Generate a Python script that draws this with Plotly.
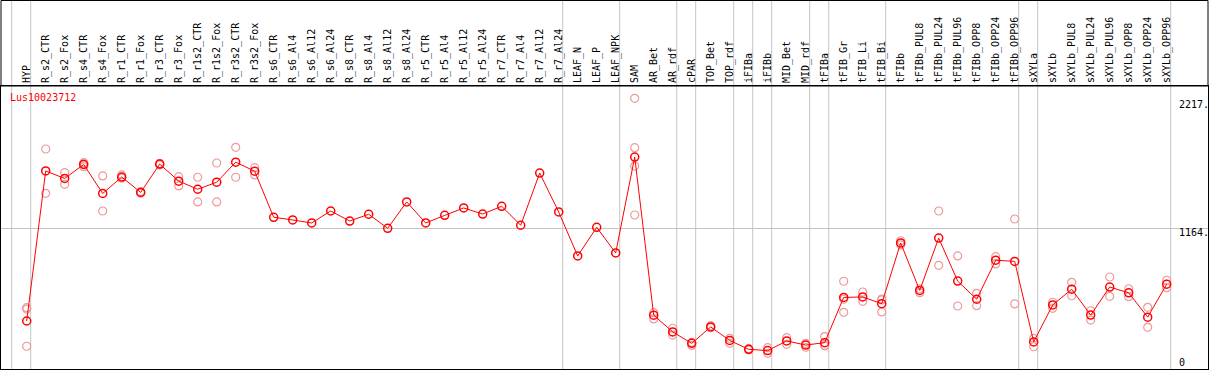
import plotly.graph_objects as go

categories = [
    "HYP", "R_s2_CTR", "R_s2_Fox", "R_s4_CTR", "R_s4_Fox", "R_r1_CTR", "R_r1_Fox",
    "R_r3_CTR", "R_r3_Fox", "R_r1s2_CTR", "R_r1s2_Fox", "R_r3s2_CTR", "R_r3s2_Fox",
    "R_s6_CTR", "R_s6_Al4", "R_s6_Al12", "R_s6_Al24", "R_s8_CTR", "R_s8_Al4",
    "R_s8_Al12", "R_s8_Al24", "R_r5_CTR", "R_r5_Al4", "R_r5_Al12", "R_r5_Al24",
    "R_r7_CTR", "R_r7_Al4", "R_r7_Al12", "R_r7_Al24", "LEAF_N", "LEAF_P", "LEAF_NPK",
    "SAM", "AR_Bet", "AR_rdf", "cPAR", "TOP_Bet", "TOP_rdf", "iFIBa", "iFIBb",
    "MID_Bet", "MID_rdf", "tFIBa", "tFIB_Gr", "tFIB_Li", "tFIB_Bi", "tFIBb",
    "tFIBb_PUL8", "tFIBb_PUL24", "tFIBb_PUL96", "tFIBb_OPP8", "tFIBb_OPP24",
    "tFIBb_OPP96", "sXYLa", "sXYLb", "sXYLb_PUL8", "sXYLb_PUL24", "sXYLb_PUL96",
    "sXYLb_OPP8", "sXYLb_OPP24", "sXYLb_OPP96",
]

means = [
    397, 1638, 1576, 1692, 1452, 1588, 1461, 1695, 1554, 1487, 1545, 1711, 1636,
    1255, 1233, 1208, 1307, 1224, 1280, 1164, 1382, 1208, 1271, 1332, 1282,
    1346, 1189, 1621, 1299, 935, 1172, 960,
    1753, 445, 307, 212, 348, 236, 163, 152, 232, 198, 218, 592, 596, 540, 1043,
    650, 1083, 727, 577, 900, 890, 224, 530, 660, 446, 678, 630, 429, 702,
]

replicates = [
    [507, 496, 188], [1820, 1453], [1624, 1528], [1707, 1696, 1674], [1597, 1307],
    [1605, 1578], [1467, 1456], [1702, 1688], [1591, 1514], [1586, 1382],
    [1704, 1382], [1834, 1586], [1665, 1605],
    [], [], [], [], [], [], [], [], [], [], [], [], [], [], [], [], [], [], [],
    [2239, 1831, 1679, 1274], [466, 414], [337, 281], [220, 195], [358, 342],
    [254, 213], [168, 157], [176, 130], [259, 204], [212, 180], [268, 195, 192],
    [726, 577, 469], [637, 560], [579, 571, 472], [1061, 1026], [664, 631],
    [1307, 858], [935, 521], [626, 524], [929, 869], [1241, 538], [254, 184],
    [552, 502], [717, 606], [482, 405], [761, 601], [664, 598], [510, 345],
    [734, 673],
]

separator_after = [-1, 0, 28, 31, 34, 35, 37, 38, 39, 41, 42, 45, 52, 53, 60]
y_ticks = [0, 1164, 2217]
y_tick_text = ["0", "1164.", "2217."]
grid_value = 1164
gene_id = "Lus10023712"

W, H = 1209, 370
ML, MR, MT, MB = 1, 1, 86, 1
plot_h = H - MT - MB
x_range = [-1.3526, 62.174]
y_range = [0, 2341]

MONO = "DejaVu Sans Mono"
RED = "#ff0000"
PINK = "#ee9a9a"
GRAY = "#c4c4c4"

xs = list(range(len(categories)))
rep_x, rep_y = [], []
for i, reps in enumerate(replicates):
    for r in reps:
        rep_x.append(i)
        rep_y.append(r)

fig = go.Figure()
fig.add_trace(go.Scatter(
    x=rep_x, y=rep_y, mode="markers",
    marker=dict(symbol="circle-open", size=8, color=PINK, line=dict(width=1.2, color=PINK)),
    hoverinfo="skip", showlegend=False,
))
fig.add_trace(go.Scatter(
    x=xs, y=means, mode="lines+markers",
    line=dict(color=RED, width=1),
    marker=dict(symbol="circle-open", size=8, color=RED, line=dict(width=1.5, color=RED)),
    showlegend=False,
))

shapes = []
top_paper = 1 + (MT - 0.5) / plot_h
for s in separator_after:
    shapes.append(dict(type="line", xref="x", yref="paper", x0=s + 4 / 19, x1=s + 4 / 19,
                       y0=0, y1=top_paper, line=dict(color=GRAY, width=1), layer="below"))
shapes.append(dict(type="rect", xref="paper", yref="paper", x0=0, x1=1, y0=1, y1=top_paper,
                   line=dict(color="black", width=1)))
fig.update_layout(shapes=shapes)

annotations = [dict(text=gene_id, xref="paper", yref="paper", x=0.0062, y=1 - 11.7 / plot_h,
                    xanchor="left", yanchor="middle", showarrow=False,
                    font=dict(family=MONO, size=10, color=RED))]
shifts = {0: 7, 1164: -4.4, 2217: -4}
for v, t in zip(y_ticks, y_tick_text):
    annotations.append(dict(text=t, xref="paper", yref="y", x=0.9745, y=v, yshift=shifts[v],
                            xanchor="left", yanchor="middle", showarrow=False,
                            font=dict(family=MONO, size=10, color="black")))
fig.update_layout(annotations=annotations)

fig.update_layout(
    width=W, height=H, margin=dict(l=ML, r=MR, t=MT, b=MB, pad=0),
    paper_bgcolor="white", plot_bgcolor="white",
    xaxis=dict(range=x_range, side="top", tickmode="array", tickvals=xs, ticktext=categories,
               tickangle=-90, tickfont=dict(family=MONO, size=10, color="black"),
               ticks="", showgrid=False, zeroline=False, showline=True, mirror=True,
               linecolor="black", linewidth=1, fixedrange=True),
    yaxis=dict(range=y_range, tickmode="array", tickvals=[grid_value], showticklabels=False,
               showgrid=True, gridcolor=GRAY, gridwidth=1, zeroline=False, showline=True,
               mirror=True, linecolor="black", linewidth=1, ticks="", fixedrange=True),
)

fig.write_html("out.html", config={"displayModeBar": False},
               post_script="document.body.style.margin='0';document.body.style.overflow='hidden';")
